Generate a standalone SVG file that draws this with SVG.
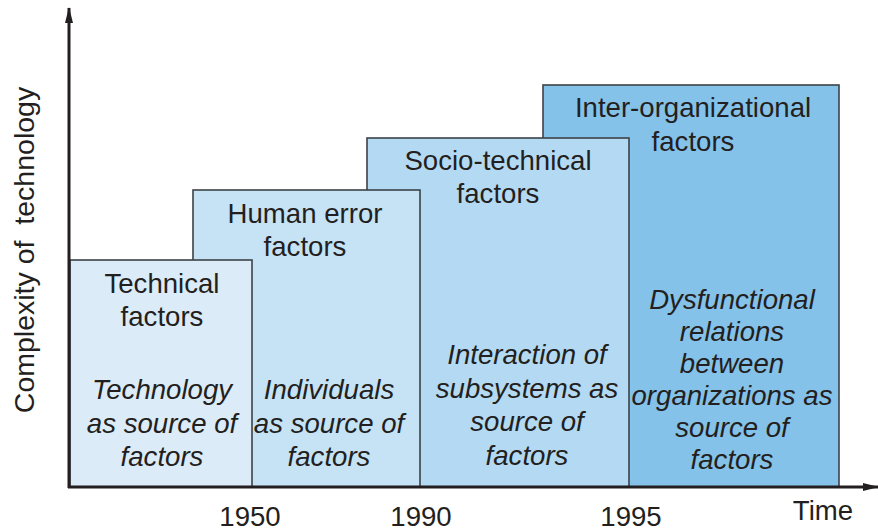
<svg xmlns="http://www.w3.org/2000/svg" width="878" height="531" viewBox="0 0 878 531">
<style>
.box{stroke:#3d4247;stroke-width:1.6}
text{font-family:"Liberation Sans",Arial,sans-serif;font-size:27.6px;fill:#231f20;text-anchor:middle}
.it{font-style:italic}
.axis{stroke:#231f20;stroke-width:3;fill:none}
</style>
<defs>
<marker id="ah" markerWidth="16" markerHeight="8" refX="15" refY="4" orient="auto" markerUnits="userSpaceOnUse">
<path d="M0,0 L16,4 L0,8 Z" fill="#231f20"/>
</marker>
</defs>
<rect width="878" height="531" fill="#ffffff"/>
<g id="n4">
<rect class="box" x="543" y="85" width="296" height="402" fill="#85c2e9"/>
<text x="693" y="117">Inter-organizational</text>
<text x="693" y="151">factors</text>
<text class="it" x="732" y="309">Dysfunctional</text>
<text class="it" x="732" y="341">relations</text>
<text class="it" x="732" y="373">between</text>
<text class="it" x="732" y="405">organizations as</text>
<text class="it" x="732" y="437">source of</text>
<text class="it" x="732" y="469">factors</text>
</g>
<g id="n3">
<rect class="box" x="367" y="138" width="262" height="349" fill="#b4daf3"/>
<text x="498" y="170">Socio-technical</text>
<text x="498" y="203">factors</text>
<text class="it" x="527" y="364">Interaction of</text>
<text class="it" x="527" y="398">subsystems as</text>
<text class="it" x="527" y="431">source of</text>
<text class="it" x="527" y="465">factors</text>
</g>
<g id="n2">
<rect class="box" x="193" y="190" width="227" height="297" fill="#c6e3f6"/>
<text x="305" y="223">Human error</text>
<text x="305" y="256">factors</text>
<text class="it" x="329" y="399">Individuals</text>
<text class="it" x="329" y="433">as source of</text>
<text class="it" x="329" y="466">factors</text>
</g>
<g id="n1">
<rect class="box" x="70" y="260" width="182" height="227" fill="#dcebf8"/>
<text x="162" y="293">Technical</text>
<text x="162" y="326">factors</text>
<text class="it" x="162" y="399">Technology</text>
<text class="it" x="162" y="433">as source of</text>
<text class="it" x="162" y="466">factors</text>
</g>
<g id="connectors">
<line class="axis" x1="69" y1="488" x2="69" y2="8" marker-end="url(#ah)"/>
<line class="axis" x1="68" y1="487" x2="878" y2="487" marker-end="url(#ah)"/>
</g>
<g id="labels">
<text x="250" y="526">1950</text>
<text x="421" y="526">1990</text>
<text x="631" y="526">1995</text>
<text x="823" y="520">Time</text>
<text transform="translate(34,250) rotate(-90)" style="font-size:28.5px" xml:space="preserve">Complexity of  technology</text>
</g>
</svg>
